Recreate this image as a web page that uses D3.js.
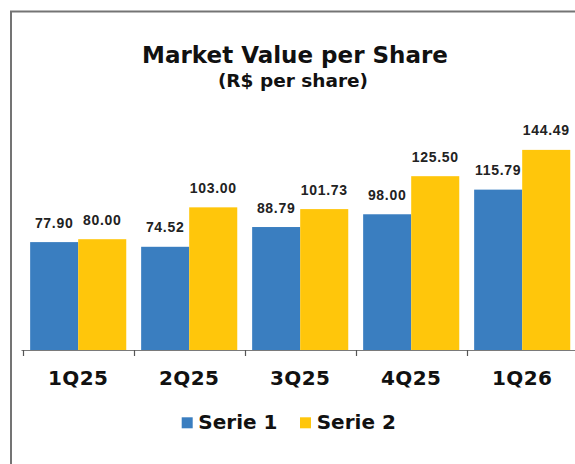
<!DOCTYPE html>
<html>
<head>
<meta charset="utf-8">
<script src="https://cdn.jsdelivr.net/npm/d3@7"></script>
<style>
  html, body { margin: 0; padding: 0; background: #fff; }
  svg { display: block; }
</style>
</head>
<body>
<svg id="chart" width="575" height="464"></svg>
<script>
const categories = ["1Q25", "2Q25", "3Q25", "4Q25", "1Q26"];
const seriesNames = ["Serie 1", "Serie 2"];
const serie1 = [77.90, 74.52, 88.79, 98.00, 115.79];
const serie2 = [80.00, 103.00, 101.73, 125.50, 144.49];
const colors = ["#3a7ec0", "#ffc60b"];
const titleText = "Market Value per Share";
const subtitleText = "(R$ per share)";

const svg = d3.select("#chart");
svg.append("rect").attr("x", 0).attr("y", 0).attr("width", 575).attr("height", 464).attr("fill", "#fff");

// frame
svg.append("rect")
  .attr("x", 11).attr("y", 11.5).attr("width", 700).attr("height", 600)
  .attr("fill", "none").attr("stroke", "#747474").attr("stroke-width", 2);

const baseY = 350;
const x = d3.scaleBand().domain(categories).range([22.7, 577.7]).paddingInner(0).paddingOuter(0);
const xs = d3.scaleBand().domain(seriesNames).range([0, x.bandwidth()]).paddingInner(0).paddingOuter(0.155);
const y = d3.scaleLinear().domain([0, 160]).range([baseY, baseY - 1.385 * 160]);

const data = categories.map((c, i) => ({cat: c, vals: [serie1[i], serie2[i]]}));

const groups = svg.append("g").selectAll("g").data(data).join("g")
  .attr("transform", d => `translate(${x(d.cat)},0)`);

groups.selectAll("rect").data(d => d.vals.map((v, j) => ({name: seriesNames[j], v, j})))
  .join("rect")
  .attr("x", d => xs(d.name))
  .attr("y", d => y(d.v))
  .attr("width", xs.bandwidth())
  .attr("height", d => y(0) - y(d.v))
  .attr("fill", d => colors[d.j]);

groups.selectAll("text.val").data(d => d.vals.map((v, j) => ({name: seriesNames[j], v, j})))
  .join("text")
  .attr("class", "val")
  .attr("x", d => xs(d.name) + xs.bandwidth() / 2)
  .attr("y", d => y(d.v) - 14.5)
  .attr("text-anchor", "middle")
  .attr("font-family", "'Liberation Sans', Arial, sans-serif")
  .attr("font-weight", "bold")
  .attr("font-size", 14)
  .attr("letter-spacing", 0.7)
  .attr("fill", "#222")
  .text(d => d.v.toFixed(2));

// axis
const axisG = svg.append("g").attr("transform", `translate(0,${baseY})`)
  .call(d3.axisBottom(x).tickSize(0).tickPadding(0));
axisG.select(".domain").remove();
axisG.append("line").attr("x1", 21.5).attr("x2", 575).attr("y1", 0.5).attr("y2", 0.5)
  .attr("stroke", "#7a7a7a").attr("stroke-width", 1.2);
const boundaries = categories.map(c => x(c)).concat([x(categories[categories.length - 1]) + x.bandwidth()]);
axisG.selectAll("line.bt").data(boundaries).join("line")
  .attr("class", "bt")
  .attr("x1", d => Math.round(d) + 0.5).attr("x2", d => Math.round(d) + 0.5)
  .attr("y1", 0).attr("y2", 6)
  .attr("stroke", "#555").attr("stroke-width", 1.2);
axisG.selectAll(".tick text")
  .attr("y", 34.5).attr("dy", 0)
  .attr("font-family", "'DejaVu Sans', Verdana, sans-serif")
  .attr("font-weight", "bold")
  .attr("font-size", 20)
  .attr("letter-spacing", 0.4)
  .attr("fill", "#111");

// title
svg.append("text").attr("x", 295).attr("y", 63.3).attr("text-anchor", "middle")
  .attr("font-family", "'DejaVu Sans', Verdana, sans-serif").attr("font-weight", "bold")
  .attr("font-size", 23).attr("fill", "#111").text(titleText);
svg.append("text").attr("x", 293).attr("y", 86.7).attr("text-anchor", "middle")
  .attr("font-family", "'DejaVu Sans', Verdana, sans-serif").attr("font-weight", "bold")
  .attr("font-size", 18.5).attr("fill", "#111").text(subtitleText);

// legend
const legendPos = [{sx: 181.7, tx: 198.3}, {sx: 300, tx: 316.7}];
const leg = svg.append("g").selectAll("g").data(seriesNames).join("g");
leg.append("rect")
  .attr("x", (d, i) => legendPos[i].sx).attr("y", 417.3)
  .attr("width", 11).attr("height", 11)
  .attr("fill", (d, i) => colors[i]);
leg.append("text")
  .attr("x", (d, i) => legendPos[i].tx).attr("y", 429.3)
  .attr("font-family", "'DejaVu Sans', Verdana, sans-serif").attr("font-weight", "bold")
  .attr("font-size", 20).attr("fill", "#111")
  .text(d => d);
</script>
</body>
</html>
